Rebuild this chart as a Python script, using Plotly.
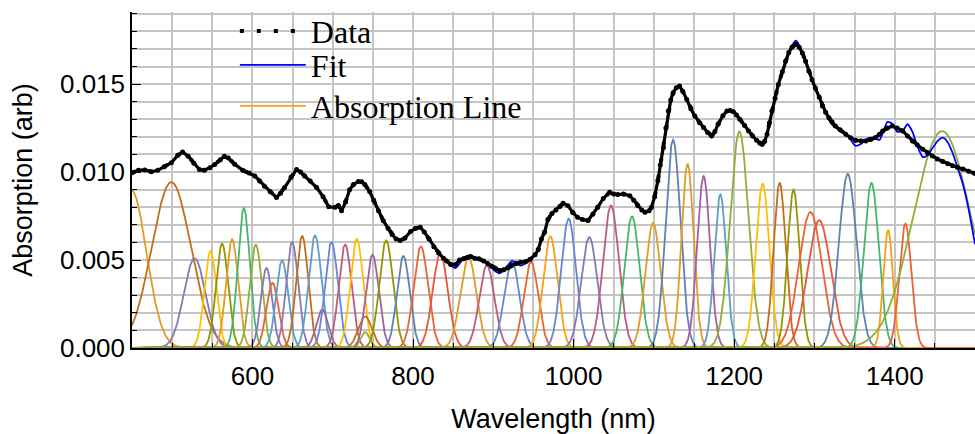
import numpy as np
import plotly.graph_objects as go

# ---------------- data (absorbance values in units of 1e-3) ----------------
data_nm = [450, 458, 466, 474, 482, 490, 499, 507, 513, 520, 527, 534, 540, 547, 553, 560, 565, 570, 578, 588,
           596, 603, 609, 615, 622, 630, 635, 640, 648, 655, 660, 665, 672, 680, 688, 695, 703, 707, 711, 716,
           721, 726, 732, 736, 740, 746, 751, 757, 763, 769, 774, 779, 784, 790, 797, 803, 809, 814, 820, 826,
           832, 838, 842, 847, 853, 858, 863, 868, 872, 877, 882, 888, 893, 898, 903, 908, 913, 918, 923, 929,
           934, 940, 946, 952, 956, 960, 964, 968, 973, 978, 983, 987, 993, 999, 1005, 1011, 1018, 1024, 1030, 1037,
           1045, 1050, 1055, 1062, 1070, 1075, 1080, 1085, 1089, 1094, 1097, 1101, 1105, 1108, 1112, 1115, 1118, 1121, 1124, 1128,
           1132, 1136, 1141, 1146, 1151, 1157, 1162, 1167, 1172, 1176, 1180, 1186, 1191, 1195, 1199, 1203, 1207, 1213, 1218, 1223,
           1228, 1232, 1235, 1238, 1241, 1244, 1247, 1251, 1255, 1260, 1264, 1268, 1272, 1277, 1281, 1285, 1289, 1293, 1297, 1301,
           1306, 1310, 1314, 1318, 1322, 1326, 1332, 1339, 1345, 1351, 1358, 1364, 1370, 1376, 1381, 1385, 1391, 1397, 1403, 1410,
           1416, 1422, 1428, 1435, 1441, 1447, 1453, 1460, 1466, 1472, 1478, 1485, 1492, 1500]

data_milli = [9.96, 10.10, 10.12, 10.02, 10.10, 10.30, 10.53, 10.95, 11.14, 10.90, 10.50, 10.15, 10.10, 10.25, 10.43, 10.70, 10.90, 10.80, 10.45, 10.10,
              9.95, 9.78, 9.50, 9.20, 8.90, 8.56, 8.80, 9.12, 9.70, 10.15, 10.00, 9.78, 9.50, 9.12, 8.60, 8.03, 8.00, 8.10, 7.80, 8.30,
              9.00, 9.30, 9.46, 9.45, 9.30, 8.90, 8.40, 7.80, 7.24, 6.80, 6.45, 6.20, 6.11, 6.25, 6.62, 6.80, 6.87, 6.60, 6.20, 5.75,
              5.40, 5.10, 4.95, 4.75, 4.75, 5.00, 5.08, 5.15, 5.20, 5.10, 5.07, 4.95, 4.80, 4.65, 4.50, 4.40, 4.45, 4.55, 4.70, 4.80,
              4.88, 4.90, 5.05, 5.30, 5.60, 6.20, 6.60, 7.30, 7.65, 7.85, 8.05, 8.23, 8.09, 7.70, 7.43, 7.30, 7.25, 7.60, 8.00, 8.50,
              8.85, 8.75, 8.72, 8.75, 8.66, 8.40, 8.09, 7.85, 7.72, 7.80, 8.00, 8.60, 9.51, 10.40, 11.40, 12.50, 13.47, 14.10, 14.51, 14.80,
              14.89, 14.60, 14.13, 13.60, 13.19, 12.80, 12.53, 12.25, 12.06, 12.30, 12.72, 13.20, 13.47, 13.50, 13.43, 13.25, 13.00, 12.65, 12.34, 12.05,
              11.81, 11.65, 11.58, 11.75, 12.15, 12.80, 13.47, 14.20, 14.98, 15.70, 16.30, 16.80, 17.09, 17.28, 17.10, 16.77, 16.30, 15.74, 15.25, 14.79,
              14.25, 13.75, 13.40, 13.09, 12.85, 12.62, 12.40, 12.15, 11.95, 11.81, 11.77, 11.77, 11.85, 11.96, 12.15, 12.34, 12.50, 12.62, 12.50, 12.34,
              12.05, 11.77, 11.55, 11.30, 11.10, 10.92, 10.75, 10.60, 10.48, 10.36, 10.27, 10.17, 10.05, 9.92]

fit_milli = [10.05, 10.10, 10.12, 10.02, 10.10, 10.30, 10.53, 10.95, 11.14, 10.90, 10.50, 10.15, 10.10, 10.25, 10.43, 10.70, 10.90, 10.80, 10.45, 10.10,
             9.95, 9.78, 9.50, 9.20, 8.90, 8.56, 8.80, 9.12, 9.70, 10.15, 10.00, 9.78, 9.50, 9.12, 8.60, 8.03, 8.00, 8.10, 7.80, 8.30,
             9.00, 9.30, 9.46, 9.45, 9.30, 8.90, 8.40, 7.80, 7.24, 6.80, 6.45, 6.20, 6.11, 6.25, 6.62, 6.80, 6.87, 6.60, 6.20, 5.75,
             5.40, 5.10, 5.00, 4.70, 4.55, 4.80, 5.10, 5.25, 5.25, 5.15, 5.05, 4.92, 4.75, 4.55, 4.35, 4.25, 4.40, 4.70, 4.92, 4.85,
             4.68, 4.80, 5.00, 5.30, 5.60, 6.20, 6.60, 7.30, 7.65, 7.85, 8.05, 8.23, 8.09, 7.70, 7.43, 7.30, 7.25, 7.60, 8.00, 8.50,
             8.85, 8.75, 8.72, 8.75, 8.66, 8.40, 8.09, 7.85, 7.72, 7.80, 8.00, 8.60, 9.51, 10.40, 11.40, 12.50, 13.47, 14.10, 14.51, 14.80,
             14.89, 14.60, 14.13, 13.60, 13.19, 12.80, 12.53, 12.20, 11.95, 12.20, 12.72, 13.20, 13.47, 13.50, 13.43, 13.25, 13.00, 12.65, 12.34, 12.05,
             11.81, 11.55, 11.50, 11.70, 12.15, 12.80, 13.47, 14.20, 14.98, 15.70, 16.30, 16.80, 17.20, 17.47, 17.20, 16.77, 16.30, 15.74, 15.25, 14.79,
             14.25, 13.75, 13.40, 13.00, 12.70, 12.55, 12.35, 12.20, 11.85, 11.50, 11.60, 11.85, 11.96, 11.90, 11.83, 12.20, 12.85, 12.75, 12.30, 12.35,
             12.72, 12.30, 11.50, 10.85, 10.95, 11.35, 11.75, 11.96, 11.70, 11.10, 10.30, 9.30, 7.90, 5.90]

# absorption lines: centre (nm), peak (1e-3), width sigma (nm), colour
line_center = [449, 499, 528, 547.7, 562.2, 574.7, 589.3, 604.2, 617.5, 625, 637, 649.5, 662, 678, 687, 698.5, 715.5,
               730, 740.4, 740.4, 749.5, 766.6, 788, 809.8, 834, 869, 892, 923, 947, 971, 993.8, 1019.6, 1046.6,
               1072.8, 1099, 1123.9, 1142, 1162, 1182.8, 1206.5, 1235.5, 1256.7, 1274, 1295, 1306, 1341.5, 1371,
               1391.8, 1413.3, 1459]
line_peak = [9.0, 9.43, 5.1, 5.5, 5.93, 6.18, 7.95, 5.87, 4.55, 3.7, 4.98, 6.02, 6.36, 6.4, 2.18, 6.02, 5.88,
             6.2, 1.8, 0.9, 5.3, 6.12, 5.23, 5.78, 5.36, 5.17, 4.7, 4.98, 4.89, 6.35, 7.35, 6.3, 8.1,
             7.48, 7.1, 11.84, 10.48, 9.77, 8.73, 12.31, 9.34, 9.38, 9.0, 7.73, 7.26, 9.9, 9.38,
             6.72, 7.07, 12.33]
line_sigma = [19, 24.5, 13.5, 7.5, 7.5, 7.5, 7.5, 7.5, 7, 7.5, 7.5, 7.5, 7.5, 8, 7.5, 8, 8,
              8, 8.5, 5.5, 8, 8.5, 8, 9, 9.5, 10, 9.5, 9.5, 9, 9, 9.3, 10, 10,
              9.5, 9.5, 9.2, 7.5, 8, 7.5, 11.5, 8.5, 7.5, 7.5, 14.5, 14.5, 11, 9.3,
              6, 7.5, 36]
line_color = ["#E19C24", "#C56E1A", "#8778B3", "#FFBF00", "#929600", "#E19C24", "#47B66D", "#8FB032", "#8778B3",
              "#EB6235", "#5D9EC7", "#8778B3", "#C56E1A", "#5D9EC7", "#A5609D", "#6685D9", "#BC5B80",
              "#FFBF00", "#C56E1A", "#8FB032", "#A5609D", "#929600", "#5E81B5", "#EB6235", "#E95536", "#E19C24",
              "#BC5B80", "#6685D9", "#EB6235", "#F89F13", "#6685D9", "#8778B3", "#BC5B80",
              "#47B66D", "#E19C24", "#5E81B5", "#E19C24", "#A5609D", "#5D9EC7", "#8FB032", "#FFBF00", "#C56E1A",
              "#929600", "#EB6235", "#E95536", "#5E81B5", "#47B66D", "#F89F13", "#EB6235", "#8FB032"]

x_ticks = [600, 800, 1000, 1200, 1400]
y_ticks = [0.0, 0.005, 0.010, 0.015]

# ---------------- figure ----------------
fig = go.Figure()
grid_nm = np.linspace(450, 1500, 2101)
legend_line = 29  # the orange #F89F13 line used for the legend entry
for i, (c, a, s, col) in enumerate(zip(line_center, line_peak, line_sigma, line_color)):
    yy = a * 1e-3 * np.exp(-(grid_nm - c) ** 2 / (2 * s ** 2))
    fig.add_trace(go.Scatter(
        x=grid_nm, y=yy, mode="lines",
        line=dict(color=col, width=1.8),
        name="Absorption Line", showlegend=(i == legend_line), legend="legend3",
        hoverinfo="skip"))

fig.add_trace(go.Scatter(
    x=data_nm, y=np.array(fit_milli) * 1e-3, mode="lines",
    line=dict(color="#0000FF", width=1.8, shape="spline", smoothing=0.6),
    name="Fit", legend="legend2"))

fig.add_trace(go.Scatter(
    x=data_nm, y=np.array(data_milli) * 1e-3, mode="lines",
    line=dict(color="black", width=4, dash="4px,13px"),
    name="Data", legend="legend"))
fig.add_trace(go.Scatter(
    x=data_nm, y=np.array(data_milli) * 1e-3, mode="lines+markers",
    line=dict(color="black", width=3.2),
    marker=dict(color="black", size=5),
    showlegend=False))

gridc = "rgb(196,196,196)"
tick_font = dict(family="Liberation Sans, Arial, sans-serif", size=26, color="black")
title_font = dict(family="Liberation Sans, Arial, sans-serif", size=27, color="black")
legend_font = dict(family="Liberation Serif, Times New Roman, serif", size=32, color="black")


def legend_box(ypos):
    return dict(x=0.122, y=ypos, xanchor="left", yanchor="middle",
                bgcolor="rgba(0,0,0,0)", borderwidth=0,
                font=legend_font, itemwidth=66)


fig.update_layout(
    width=975, height=434,
    margin=dict(l=132, r=0, t=12, b=86),
    plot_bgcolor="white", paper_bgcolor="white",
    font=tick_font,
    legend=legend_box(0.943),
    legend2=legend_box(0.842),
    legend3=legend_box(0.720),
)

fig.update_xaxes(
    range=[450, 1500], tickvals=x_ticks, ticktext=[str(v) for v in x_ticks],
    ticks="inside", ticklen=9, tickwidth=1.3, tickcolor="black",
    showline=True, linecolor="black", linewidth=1.5,
    showgrid=True, gridcolor=gridc, gridwidth=1.5, zeroline=False,
    minor=dict(dtick=50, tick0=0, ticks="inside", ticklen=5, tickcolor="black",
               showgrid=True, gridcolor=gridc, gridwidth=1.5),
    tickfont=tick_font, ticklabelstandoff=4,
    title=dict(text="Wavelength (nm)", font=title_font, standoff=24),
)
fig.update_yaxes(
    range=[0, 0.0191], tickvals=y_ticks, ticktext=["%.3f" % v for v in y_ticks],
    ticks="inside", ticklen=9, tickwidth=1.3, tickcolor="black",
    showline=True, linecolor="black", linewidth=1.5,
    showgrid=True, gridcolor=gridc, gridwidth=1.5, zeroline=False,
    minor=dict(dtick=0.001, tick0=0, ticks="inside", ticklen=5, tickcolor="black",
               showgrid=True, gridcolor=gridc, gridwidth=1.5),
    tickfont=tick_font,
    title=dict(text="Absorption (arb)", font=title_font, standoff=20),
)

fig.write_html("out.html")
